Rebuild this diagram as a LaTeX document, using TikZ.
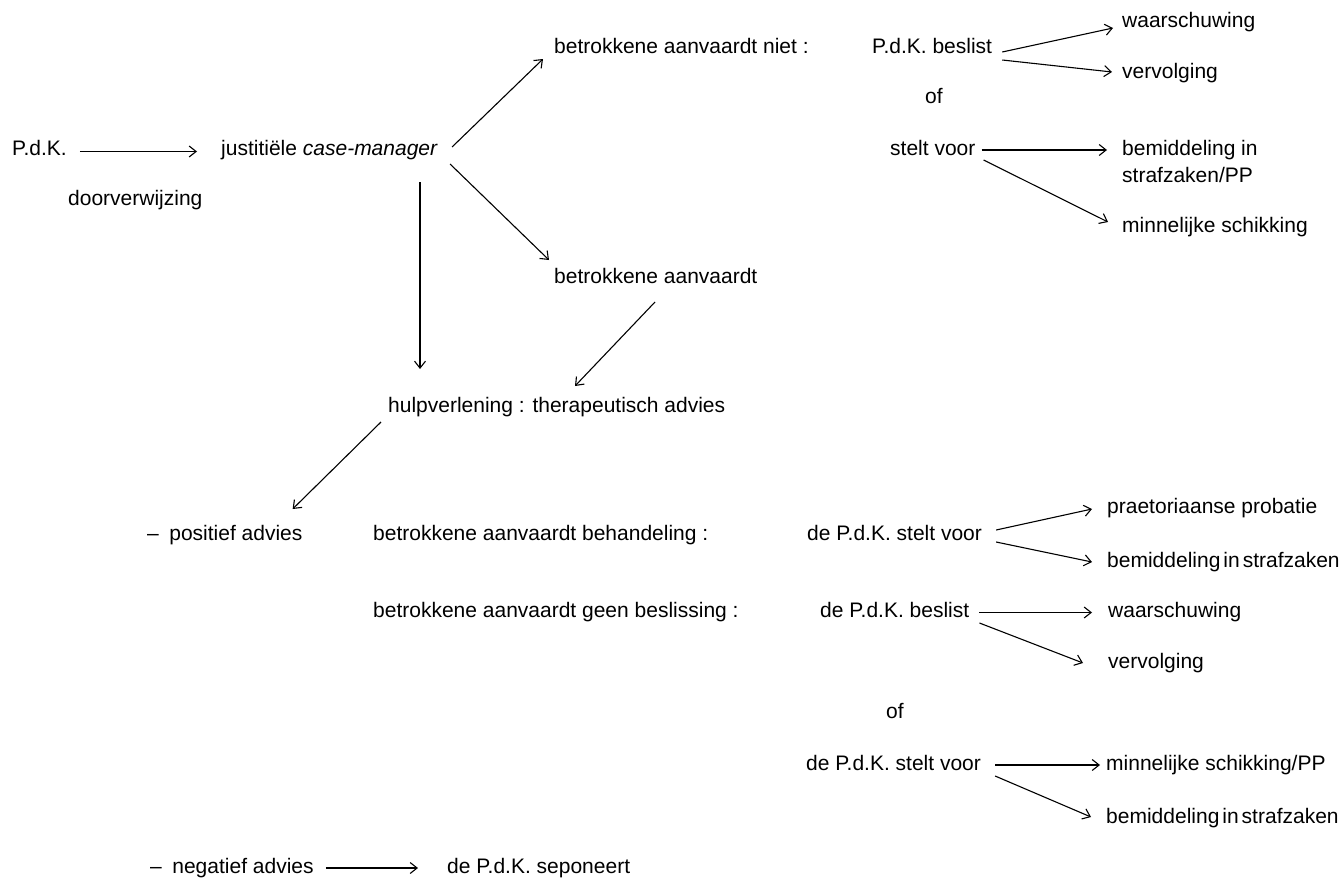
\documentclass[tikz,border=0pt]{standalone}
\usepackage{fontspec}
\setmainfont{Liberation Sans}
\usetikzlibrary{arrows.meta}

\newcommand{\tsp}{\hspace{3pt}}

\tikzset{
  lbl/.style={inner sep=0pt, anchor=base west},
  arr/.style={-{Straight Barb[length=7pt,width=11pt]}, line width=1.1pt},
}

\begin{document}
\begin{tikzpicture}[x=1pt, y=-1pt, font=\fontsize{21}{27}\selectfont]
\useasboundingbox (0,0) rectangle (1343,878);

% top part
\node[lbl] (pdk)  at (12,155.5)   {P.d.K.};
\node[lbl] (jcm)  at (221,155.5)  {justitiële \textit{case-manager}};
\node[lbl] (dvw)  at (68,205.5)   {doorverwijzing};
\node[lbl] (ban)  at (554,53.5)   {betrokkene aanvaardt niet :};
\node[lbl] (pbe)  at (872,53.5)   {P.d.K. beslist};
\node[lbl] (ws1)  at (1122,27.5)  {waarschuwing};
\node[lbl] (vv1)  at (1122,78.5)  {vervolging};
\node[lbl] (of1)  at (925,103.5)  {of};
\node[lbl] (svo)  at (890,155.5)  {stelt voor};
\node[inner sep=0pt, anchor=north west, align=left] (bem1) at (1122,140.5) {bemiddeling in\\strafzaken/PP};
\node[lbl] (msc1) at (1122,232.5) {minnelijke schikking};
\node[lbl] (ba)   at (554,283.5)  {betrokkene aanvaardt};
\node[lbl] (hulp) at (388,412.5)  {hulpverlening : therapeutisch advies};

% lower part
\node[lbl] (pos)  at (147,540.5)  {--\enspace positief advies};
\node[lbl] (bab)  at (373,540.5)  {betrokkene aanvaardt behandeling :};
\node[lbl] (psv1) at (807,540.5)  {de P.d.K. stelt voor};
\node[lbl] (prp)  at (1107,513.5) {praetoriaanse probatie};
\node[lbl] (bem2) at (1107,567.5) {bemiddeling\tsp in\tsp strafzaken};
\node[lbl] (bag)  at (373,617.5)  {betrokkene aanvaardt geen beslissing :};
\node[lbl] (pbe2) at (820,617.5)  {de P.d.K. beslist};
\node[lbl] (ws2)  at (1108,617.5) {waarschuwing};
\node[lbl] (vv2)  at (1108,668.5) {vervolging};
\node[lbl] (of2)  at (886,718.5)  {of};
\node[lbl] (psv2) at (806,770.5)  {de P.d.K. stelt voor};
\node[lbl] (msc2) at (1106,770.5) {minnelijke schikking/PP};
\node[lbl] (bem3) at (1106,823.5) {bemiddeling\tsp in\tsp strafzaken};
\node[lbl] (neg)  at (150,873.5)  {--\enspace negatief advies};
\node[lbl] (sep)  at (447,873.5)  {de P.d.K. seponeert};

\draw[arr] ([shift={(13,-4)}]pdk.base east) -- ([shift={(-24,-4)}]jcm.base west);
\draw[arr] ([shift={(14,-8.5)}]jcm.base east) -- ([shift={(-11,5.5)}]ban.base west);
\draw[arr] ([shift={(12,8.5)}]jcm.base east) -- ([shift={(-5,-23.5)}]ba.base west);
\draw[arr] ([shift={(199,26.5)}]jcm.base west) -- ([shift={(32,-43.5)}]hulp.base west);
\draw[arr] ([shift={(101,18.5)}]ba.base west) -- ([shift={(187,-26.5)}]hulp.base west);
\draw[arr] ([shift={(-7,9.5)}]hulp.base west) -- ([shift={(-10,-31.5)}]pos.base east);

\draw[arr] ([shift={(10,-1.5)}]pbe.base east) -- ([shift={(-9,0.5)}]ws1.base west);
\draw[arr] ([shift={(10,6.5)}]pbe.base east) -- ([shift={(-10,-6.5)}]vv1.base west);
\draw[arr] ([shift={(6,-5.5)}]svo.base east) -- ([shift={(-15,9.5)}]bem1.north west);
\draw[arr] ([shift={(8,4.5)}]svo.base east) -- ([shift={(-14,-10.5)}]msc1.base west);

\draw[arr] ([shift={(14,-10.5)}]psv1.base east) -- ([shift={(-15,-4.5)}]prp.base west);
\draw[arr] ([shift={(14,1.5)}]psv1.base east) -- ([shift={(-15,-5.5)}]bem2.base west);
\draw[arr] ([shift={(10,-5)}]pbe2.base east) -- ([shift={(-16,-5)}]ws2.base west);
\draw[arr] ([shift={(10,5.5)}]pbe2.base east) -- ([shift={(-25,-5.5)}]vv2.base west);
\draw[arr] ([shift={(14,-5.5)}]psv2.base east) -- ([shift={(-6,-5.5)}]msc2.base west);
\draw[arr] ([shift={(14,5.5)}]psv2.base east) -- ([shift={(-15,-6.5)}]bem3.base west);
\draw[arr] ([shift={(12,-5.5)}]neg.base east) -- ([shift={(-29,-5.5)}]sep.base west);
\end{tikzpicture}
\end{document}
